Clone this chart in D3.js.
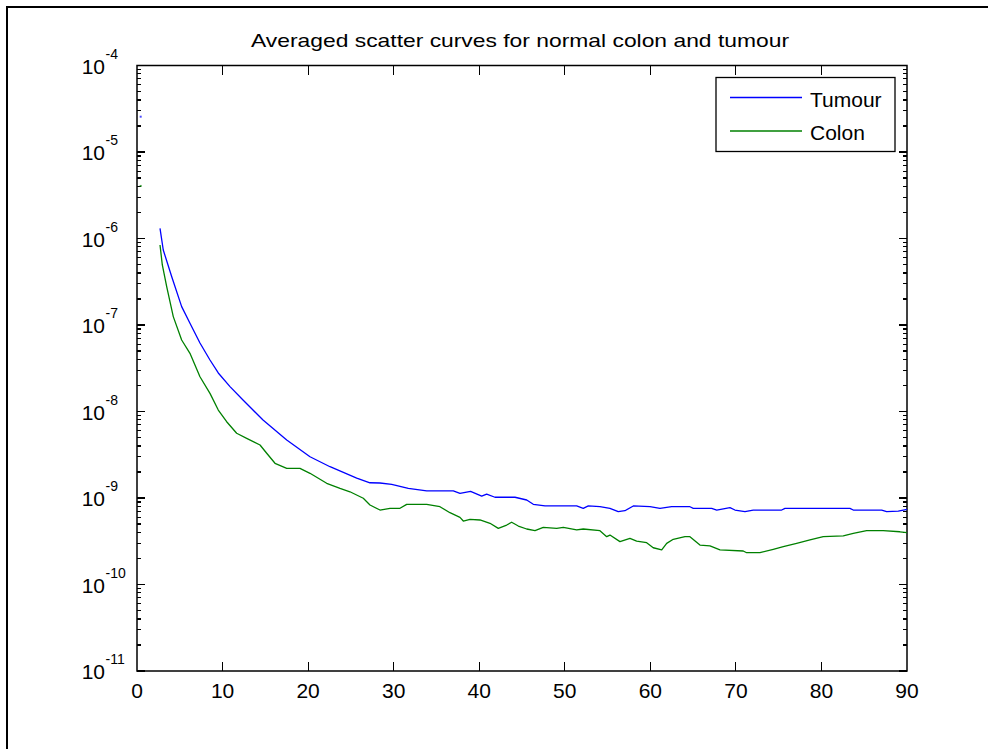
<!DOCTYPE html>
<html>
<head>
<meta charset="utf-8">
<script src="https://cdn.jsdelivr.net/npm/d3@7"></script>
<style>
  body { margin: 0; background: #fff; }
  svg { display: block; }
  text { font-family: "Liberation Sans", Arial, sans-serif; fill: #000; }
</style>
</head>
<body>
<svg id="chart" width="988" height="749"></svg>
<script>
// ---- data ----
const title = "Averaged scatter curves for normal colon and tumour";
const seriesNames = ["Tumour", "Colon"];
const seriesColors = ["#0000ff", "#008000"];

const tumourX = [2.69, 3.07, 4.06, 5.22, 6.19, 7.36, 8.53, 9.50, 10.87, 12.39, 14.73, 17.50, 20.22, 22.56, 25.68, 27.23, 28.40, 29.77, 31.71, 33.86, 36.97, 37.75, 38.99, 40.29, 40.87, 41.84, 44.18, 45.55, 46.32, 47.69, 51.39, 52.16, 52.75, 54.11, 55.28, 56.25, 57.03, 58.01, 59.96, 61.13, 62.49, 64.63, 65.02, 67.17, 67.76, 69.31, 69.89, 71.06, 72.03, 75.35, 75.74, 83.33, 83.72, 87.04, 87.62, 88.98, 90];
const tumourY = [1.31e-6, 7.36e-7, 3.61e-7, 1.63e-7, 1.05e-7, 6.19e-8, 3.94e-8, 2.79e-8, 1.94e-8, 1.36e-8, 7.97e-9, 4.69e-9, 3.00e-9, 2.30e-9, 1.70e-9, 1.50e-9, 1.49e-9, 1.44e-9, 1.29e-9, 1.21e-9, 1.21e-9, 1.13e-9, 1.19e-9, 1.05e-9, 1.11e-9, 1.02e-9, 1.02e-9, 9.48e-10, 8.45e-10, 8.09e-10, 8.09e-10, 7.60e-10, 8.09e-10, 7.93e-10, 7.60e-10, 6.95e-10, 7.13e-10, 8.09e-10, 7.93e-10, 7.60e-10, 7.93e-10, 7.93e-10, 7.60e-10, 7.60e-10, 7.26e-10, 7.73e-10, 7.26e-10, 6.95e-10, 7.26e-10, 7.26e-10, 7.60e-10, 7.60e-10, 7.26e-10, 7.26e-10, 6.95e-10, 7.07e-10, 7.40e-10];

const colonX = [2.69, 2.96, 3.47, 4.24, 5.22, 6.19, 7.36, 8.53, 9.50, 10.48, 11.65, 12.82, 14.38, 15.16, 16.13, 17.50, 19.05, 20.22, 22.17, 23.73, 24.89, 26.45, 27.23, 28.40, 29.57, 30.74, 31.52, 33.86, 35.41, 36.58, 37.75, 38.14, 38.92, 40.09, 41.26, 42.23, 43.21, 43.79, 44.57, 45.55, 46.52, 47.49, 49.05, 49.83, 51.39, 52.16, 54.11, 54.90, 55.28, 56.45, 57.62, 58.40, 59.57, 60.34, 61.33, 61.91, 62.68, 64.05, 64.63, 65.80, 66.97, 68.14, 70.86, 71.26, 72.81, 74.37, 75.54, 77.10, 78.66, 80.21, 82.55, 83.72, 85.28, 87.22, 89.17, 90];
const colonY = [8.41e-7, 4.94e-7, 2.77e-7, 1.25e-7, 6.71e-8, 4.71e-8, 2.52e-8, 1.62e-8, 1.04e-8, 7.62e-9, 5.60e-9, 4.90e-9, 4.10e-9, 3.29e-9, 2.52e-9, 2.20e-9, 2.20e-9, 1.93e-9, 1.48e-9, 1.29e-9, 1.18e-9, 9.93e-10, 8.30e-10, 7.26e-10, 7.60e-10, 7.60e-10, 8.45e-10, 8.45e-10, 7.93e-10, 6.76e-10, 5.98e-10, 5.42e-10, 5.67e-10, 5.57e-10, 5.10e-10, 4.46e-10, 4.87e-10, 5.24e-10, 4.74e-10, 4.38e-10, 4.19e-10, 4.58e-10, 4.46e-10, 4.58e-10, 4.27e-10, 4.38e-10, 4.19e-10, 3.57e-10, 3.73e-10, 3.13e-10, 3.42e-10, 3.18e-10, 3.04e-10, 2.66e-10, 2.51e-10, 2.99e-10, 3.33e-10, 3.57e-10, 3.57e-10, 2.86e-10, 2.79e-10, 2.51e-10, 2.44e-10, 2.33e-10, 2.33e-10, 2.55e-10, 2.74e-10, 2.99e-10, 3.27e-10, 3.57e-10, 3.64e-10, 3.91e-10, 4.19e-10, 4.19e-10, 4.07e-10, 3.97e-10];

// isolated first samples near x = 0
const strayX = [0.43, 0.43];
const strayY = [2.56e-5, 4.05e-6];

const xTicks = [0, 10, 20, 30, 40, 50, 60, 70, 80, 90];
const yExponents = [-4, -5, -6, -7, -8, -9, -10, -11];

// ---- layout ----
const svg = d3.select("#chart");
const L = 137, R = 907, T = 65.5, B = 671;
const x = d3.scaleLinear().domain([0, 90]).range([L, R]);
const y = d3.scaleLog().domain([1e-11, 1e-4]).range([B, T]);

// outer frame (extends off the right/bottom edges)
svg.append("path")
  .attr("d", `M7,749 L7,7 L988,7`)
  .attr("fill", "none").attr("stroke", "#000").attr("stroke-width", 2);

// title
svg.append("text")
  .attr("x", 520).attr("y", 47)
  .attr("text-anchor", "middle")
  .attr("font-size", 19)
  .attr("textLength", 538).attr("lengthAdjust", "spacingAndGlyphs")
  .text(title);

const g = svg.append("g");

// ticks
const majorLen = 8, minorLen = 4;
const tickG = g.append("g").attr("stroke", "#000").attr("stroke-width", 1.2).attr("shape-rendering", "crispEdges");
xTicks.slice(1, -1).forEach(v => {
  tickG.append("line").attr("x1", x(v)).attr("x2", x(v)).attr("y1", B).attr("y2", B - 9);
  tickG.append("line").attr("x1", x(v)).attr("x2", x(v)).attr("y1", T).attr("y2", T + 9);
});
yExponents.forEach(e => {
  const v = Math.pow(10, e);
  tickG.append("line").attr("x1", L).attr("x2", L + majorLen).attr("y1", y(v)).attr("y2", y(v));
  tickG.append("line").attr("x1", R).attr("x2", R - majorLen).attr("y1", y(v)).attr("y2", y(v));
  if (e > -11) {
    for (let m = 2; m <= 9; m++) {
      const mv = m * Math.pow(10, e - 1);
      tickG.append("line").attr("x1", L).attr("x2", L + minorLen).attr("y1", y(mv)).attr("y2", y(mv));
      tickG.append("line").attr("x1", R).attr("x2", R - minorLen).attr("y1", y(mv)).attr("y2", y(mv));
    }
  }
});

// axes box
g.append("rect")
  .attr("x", L).attr("y", T).attr("width", R - L).attr("height", B - T)
  .attr("fill", "none").attr("stroke", "#000").attr("stroke-width", 1.5);

// x tick labels
g.selectAll(".xl").data(xTicks).enter().append("text")
  .attr("x", d => x(d)).attr("y", B + 27)
  .attr("text-anchor", "middle").attr("font-size", 21)
  .text(d => d);

// y tick labels 10^e
yExponents.forEach(e => {
  const yy = y(Math.pow(10, e));
  g.append("text").attr("x", 105).attr("y", yy + 8)
    .attr("text-anchor", "end").attr("font-size", 21).text("10");
  g.append("text").attr("x", 105.5).attr("y", yy - 7)
    .attr("text-anchor", "start").attr("font-size", 14).text(String(e));
});

// series
const line = d3.line().x(d => x(d[0])).y(d => y(d[1]));
const series = [
  d3.zip(tumourX, tumourY),
  d3.zip(colonX, colonY)
];
series.forEach((s, i) => {
  g.append("path").datum(s)
    .attr("d", line)
    .attr("fill", "none")
    .attr("stroke", seriesColors[i])
    .attr("stroke-width", 1.3)
    .attr("stroke-linejoin", "round");
});
strayX.forEach((sx, i) => {
  g.append("rect").attr("x", x(sx) - 1).attr("y", y(strayY[i]) - 1)
    .attr("width", 2).attr("height", 2).attr("fill", seriesColors[i]).attr("opacity", 0.7);
});

// legend
const lg = svg.append("g");
lg.append("rect").attr("x", 716).attr("y", 77.5).attr("width", 179).attr("height", 74)
  .attr("fill", "#fff").attr("stroke", "#000").attr("stroke-width", 1.3);
seriesNames.forEach((n, i) => {
  const ly = 97.5 + i * 33.5;
  lg.append("line").attr("x1", 730).attr("x2", 802).attr("y1", ly).attr("y2", ly)
    .attr("stroke", seriesColors[i]).attr("stroke-width", 1.3);
  lg.append("text").attr("x", 810).attr("y", ly + 9).attr("font-size", 21).text(n);
});
</script>
</body>
</html>
